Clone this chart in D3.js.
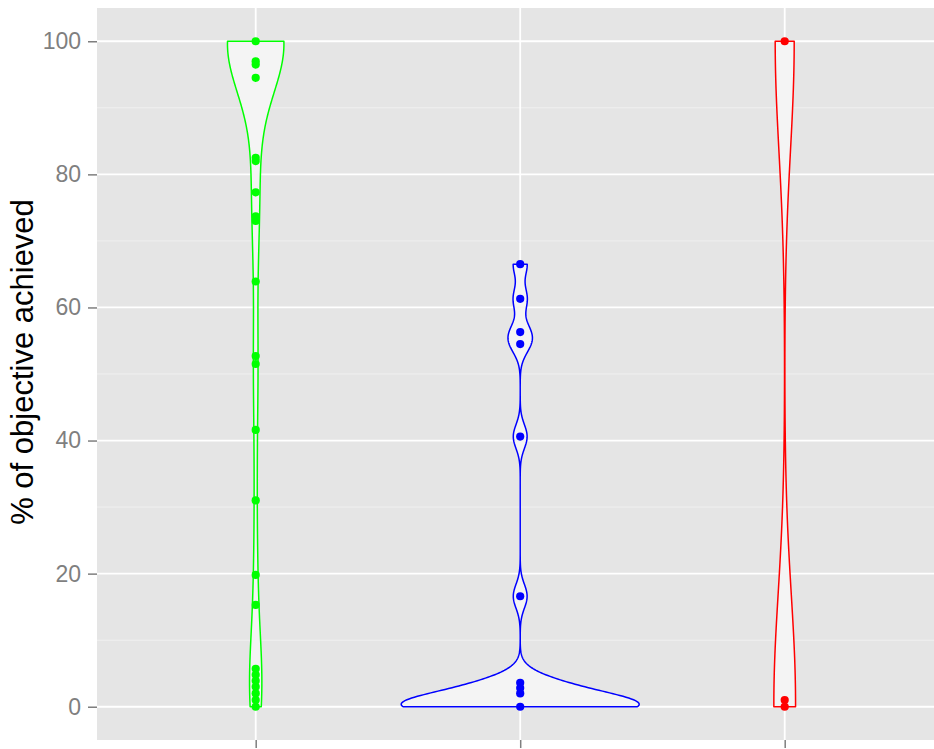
<!DOCTYPE html>
<html>
<head>
<meta charset="utf-8">
<script src="https://cdn.jsdelivr.net/npm/d3@7"></script>
<style>
  body { margin: 0; background: #ffffff; }
  svg { display: block; }
  text { font-family: "Liberation Sans", Arial, sans-serif; }
</style>
</head>
<body>
<svg id="chart" width="934" height="749"></svg>
<script>
// ---- data ----
const categories = [1, 2, 3];
const groupColors = ["#00FF00", "#0000FF", "#FF0000"];

const greenValues = [100, 97, 96.5, 94.5, 82.5, 82, 77.3, 73.7, 73, 63.9, 52.7, 51.5, 41.6, 31, 19.8, 15.3, 5.7, 4.8, 3.9, 3.0, 2.0, 1.0, 0];
const greenCounts = [30, 1, 1, 1, 1, 1, 1, 1, 1, 1, 1, 1, 1, 1, 1, 1, 1, 1, 1, 1, 1, 1, 1];

const blueValues = [66.5, 61.3, 56.3, 54.5, 40.6, 16.6, 3.6, 2.8, 2.0, 0];
const blueCounts = [1, 1, 1, 1, 1, 1, 2, 2, 2, 15];

const redValues = [100, 1, 0];
const redCounts = [7, 3, 5];

// kernel bandwidth per group (density estimate of the violins)
const bandwidths = [7.5, 1.8, 16.5];

const yMajorTicks = [0, 20, 40, 60, 80, 100];
const yMinorTicks = [10, 30, 50, 70, 90];
const yTitle = "% of objective achieved";

// ---- layout ----
const svg = d3.select("#chart");
const panel = { left: 97, right: 943.4, top: 8, bottom: 740 };

const x = d3.scaleLinear().domain([0.4, 3.6]).range([panel.left, panel.right]);
const y = d3.scaleLinear().domain([-5, 105]).range([panel.bottom, panel.top]);

const groups = [
  { values: greenValues, counts: greenCounts },
  { values: blueValues, counts: blueCounts },
  { values: redValues, counts: redCounts }
];

// panel background
svg.append("rect")
  .attr("x", panel.left).attr("y", panel.top)
  .attr("width", panel.right - panel.left).attr("height", panel.bottom - panel.top)
  .attr("fill", "#E5E5E5");

svg.append("clipPath").attr("id", "pclip").append("rect")
  .attr("x", panel.left).attr("y", panel.top)
  .attr("width", panel.right - panel.left).attr("height", panel.bottom - panel.top);

const g = svg.append("g").attr("clip-path", "url(#pclip)");

// grid
g.selectAll("line.minor").data(yMinorTicks).join("line")
  .attr("x1", panel.left).attr("x2", panel.right)
  .attr("y1", d => y(d)).attr("y2", d => y(d))
  .attr("stroke", "#F0F0F0").attr("stroke-width", 1);
g.selectAll("line.majorY").data(yMajorTicks).join("line")
  .attr("x1", panel.left).attr("x2", panel.right)
  .attr("y1", d => y(d)).attr("y2", d => y(d))
  .attr("stroke", "#FFFFFF").attr("stroke-width", 1.8);
g.selectAll("line.majorX").data(categories).join("line")
  .attr("x1", d => x(d)).attr("x2", d => x(d))
  .attr("y1", panel.top).attr("y2", panel.bottom)
  .attr("stroke", "#FFFFFF").attr("stroke-width", 1.8);

// density per group (gaussian kernel, trimmed to data range)
const nGrid = 512;
const dens = groups.map((grp, gi) => {
  const bw = bandwidths[gi];
  const n = d3.sum(grp.counts);
  const lo = d3.min(grp.values), hi = d3.max(grp.values);
  return d3.range(nGrid).map(i => {
    const v = lo + (hi - lo) * i / (nGrid - 1);
    let s = 0;
    grp.values.forEach((xv, j) => {
      const z = (v - xv) / bw;
      s += grp.counts[j] * Math.exp(-0.5 * z * z);
    });
    return { v, d: s / (n * bw * Math.sqrt(2 * Math.PI)) };
  });
});
const gmax = d3.max(dens, p => d3.max(p, q => q.d));

const line = d3.line().x(p => p[0]).y(p => p[1]);

dens.forEach((pts, gi) => {
  const c = categories[gi];
  const right = pts.map(p => [x(c + 0.45 * p.d / gmax), y(p.v)]);
  const left = pts.slice().reverse().map(p => [x(c - 0.45 * p.d / gmax), y(p.v)]);
  g.append("path")
    .attr("d", line(right.concat(left)) + "Z")
    .attr("fill", "#F4F4F4")
    .attr("stroke", groupColors[gi])
    .attr("stroke-width", 1.5)
    .attr("stroke-linejoin", "round");
});

// points
groups.forEach((grp, gi) => {
  g.append("g").selectAll("circle").data(grp.values).join("circle")
    .attr("cx", x(categories[gi]))
    .attr("cy", d => y(d))
    .attr("r", 4.1)
    .attr("fill", groupColors[gi]);
});

// axes
const yAxis = d3.axisLeft(y).tickValues(yMajorTicks).tickSize(9).tickPadding(7);
const ya = svg.append("g").attr("transform", `translate(${panel.left},0)`).call(yAxis);
ya.select(".domain").remove();
ya.selectAll(".tick line").attr("stroke", "#7F7F7F").attr("stroke-width", 1.5);
ya.selectAll(".tick text").attr("fill", "#7F7F7F").attr("font-size", 23)
  .attr("font-family", "Liberation Sans, Arial, sans-serif");

const xAxis = d3.axisBottom(x).tickValues(categories).tickSize(8).tickFormat(() => "");
const xa = svg.append("g").attr("transform", `translate(0,${panel.bottom})`).call(xAxis);
xa.select(".domain").remove();
xa.selectAll(".tick line").attr("stroke", "#7F7F7F").attr("stroke-width", 1.5);

// y title
svg.append("text")
  .attr("transform", `translate(33,362) rotate(-90)`)
  .attr("text-anchor", "middle")
  .attr("font-size", 31)
  .attr("fill", "#000000")
  .text(yTitle);
</script>
</body>
</html>
